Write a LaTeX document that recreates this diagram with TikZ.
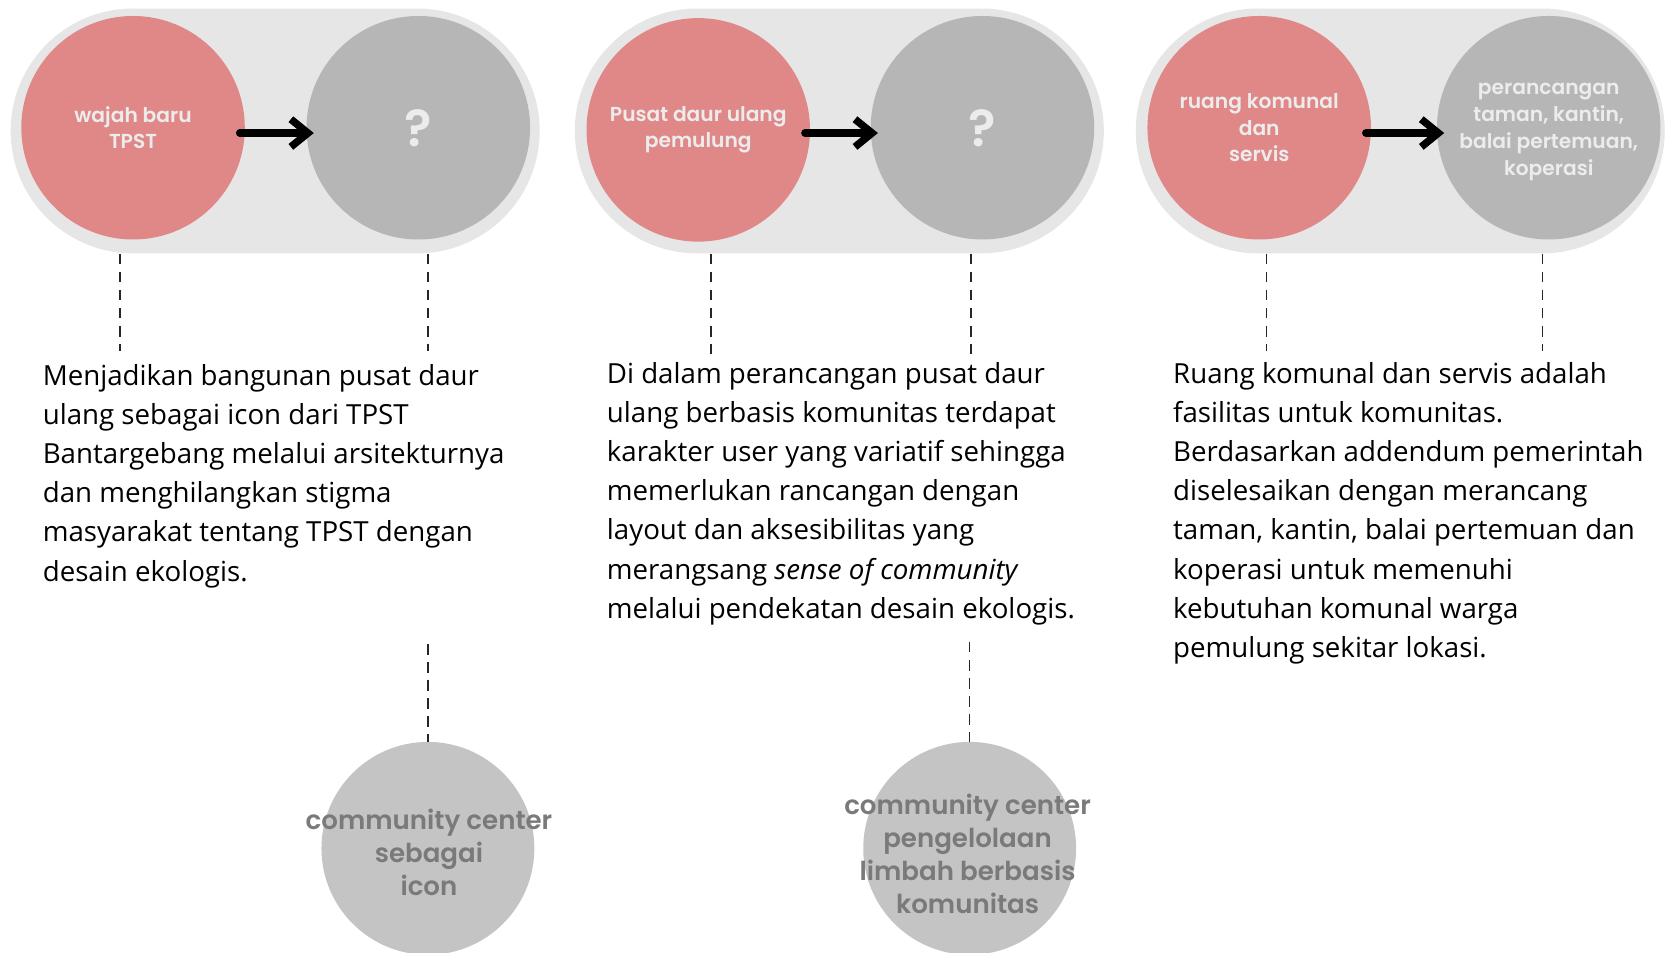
\documentclass[tikz,border=0pt]{standalone}
\usepackage{fontspec}
\setmainfont{Open Sans}
\newfontfamily\lblfont{Poppins SemiBold}
\usetikzlibrary{arrows.meta}
\definecolor{pillgray}{RGB}{230,230,230}
\definecolor{redfill}{RGB}{224,136,136}
\definecolor{grayfill}{RGB}{182,182,182}
\definecolor{botfill}{RGB}{196,196,196}
\definecolor{lbltext}{RGB}{236,236,236}
\definecolor{bottext}{RGB}{122,122,122}

\begin{document}
\begin{tikzpicture}[x=1pt,y=-1pt,
    pill/.style={fill=pillgray, rounded corners=115pt, minimum width=497pt, minimum height=230pt, inner sep=0pt},
    redc/.style={circle, fill=redfill, minimum size=210pt, inner sep=0pt, align=center, text=lbltext, font=\lblfont\fontsize{19}{25}\selectfont},
    grayc/.style={redc, fill=grayfill},
    lbl/.style={inner sep=0pt, align=center, text=lbltext, font=\lblfont\fontsize{19}{25.5}\selectfont},
    botc/.style={circle, fill=botfill, minimum size=200pt, inner sep=0pt},
    botlbl/.style={inner sep=0pt, align=center, text=bottext, font=\lblfont\fontsize{24.5}{31}\selectfont},
    arr/.style={line width=7pt, line cap=round, -{Straight Barb[length=16pt,width=26pt]}},
    leader/.style={draw=black!85, line width=1.5pt, dash pattern=on 10pt off 7pt},
    body/.style={anchor=north west, align=left, inner sep=0pt, font=\fontsize{26}{36.8}\selectfont}]
\useasboundingbox (0,0) rectangle (1568,895);
% pills
\node[pill] (p1) at (258.5,123) {};
\node[pill] (p2) at (788.5,123) {};
\node[pill] (p3) at (1315.5,123) {};
% circles
\node[redc] (r1) at (125,120) {wajah baru\\TPST};
\node[grayc, font=\lblfont\fontsize{48}{50}\selectfont] (g1) at (393,120) {?};
\node[redc] (r2) at (656,122) {Pusat daur ulang\\pemulung};
\node[grayc, font=\lblfont\fontsize{48}{50}\selectfont] (g2) at (923,120) {?};
\node[redc] (r3) at (1183,120) {ruang komunal\\dan\\servis};
\node[grayc] (g3) at (1455,120) {};
\node[lbl] (l3) at (1455,124) {perancangan\\taman, kantin,\\balai pertemuan,\\koperasi};
\draw[arr, shorten <=-5pt, shorten >=-7pt] ([yshift=-5pt]r1.east) -- ([yshift=-5pt]g1.west);
\draw[arr, shorten <=-5pt, shorten >=-7pt] ([yshift=-3pt]r2.east) -- ([yshift=-5pt]g2.west);
\draw[arr, shorten <=-5pt, shorten >=-7pt] ([yshift=-5pt]r3.east) -- ([yshift=-5pt]g3.west);
% leaders
\coordinate (d1) at (113,330);
\coordinate (d2) at (402,330);
\coordinate (d3) at (668,333);
\coordinate (d4) at (912,333);
\coordinate (d5) at (1190,330);
\coordinate (d6) at (1449,330);
\draw[leader] (p1.south -| d1) -- (d1);
\draw[leader] (p1.south -| d2) -- (d2);
\draw[leader] (p2.south -| d3) -- (d3);
\draw[leader] (p2.south -| d4) -- (d4);
\draw[leader] (p3.south -| d5) -- (d5);
\draw[leader] (p3.south -| d6) -- (d6);
% texts
\node[body] (t1) at (40,342) {Menjadikan bangunan pusat daur\\ulang sebagai icon dari TPST\\Bantargebang melalui arsitekturnya\\dan menghilangkan stigma\\masyarakat tentang TPST dengan\\desain ekologis.};
\node[body] (t2) at (570,340) {Di dalam perancangan pusat daur\\ulang berbasis komunitas terdapat\\karakter user yang variatif sehingga\\memerlukan rancangan dengan\\layout dan aksesibilitas yang\\merangsang \textit{sense of community}\\melalui pendekatan desain ekologis.};
\node[body] (t3) at (1102,340) {Ruang komunal dan servis adalah\\fasilitas untuk komunitas.\\Berdasarkan addendum pemerintah\\diselesaikan dengan merancang\\taman, kantin, balai pertemuan dan\\koperasi untuk memenuhi\\kebutuhan komunal warga\\pemulung sekitar lokasi.};
% bottom circles
\node[botc] (b1) at (402,797) {};
\node[botlbl] (l4) at (403,801) {community center\\sebagai\\icon};
\node[botc] (b2) at (911,797) {};
\node[botlbl] (l5) at (909,802) {community center\\pengelolaan\\limbah berbasis\\komunitas};
\coordinate (d7) at (402,605);
\coordinate (d8) at (911,603);
\draw[leader] (d7) -- (b1.north);
\draw[leader] (d8) -- (b2.north);
\end{tikzpicture}
\end{document}
